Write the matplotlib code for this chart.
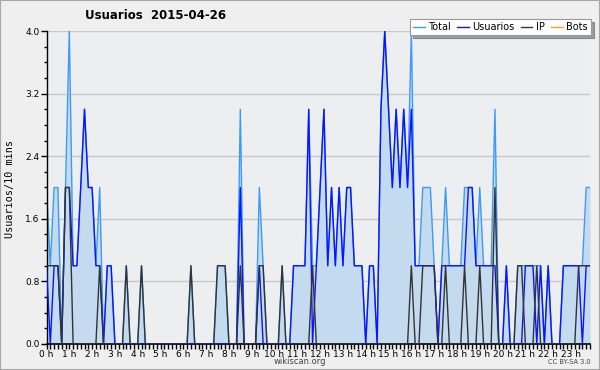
import matplotlib
matplotlib.use('Agg')
import matplotlib.pyplot as plt
from matplotlib.patches import Rectangle
from matplotlib.ticker import MultipleLocator
import numpy as np

# Colors
LIGHTBLUE = '#3d9bf5'
BLUE = '#0a14ff'
DARK = '#333333'
ORANGE = '#ffa31a'
FILL = '#c4dbef'

# values per 10 minutes, 144 slots
total = [2, 1, 2, 2, 0, 2, 4, 1, 1, 2, 3, 2, 2, 1, 2, 0, 1, 1, 0, 0, 0, 1, 0, 0,
         0, 1, 0, 0, 0, 0, 0, 0, 0, 0, 0, 0, 0, 0, 1, 0, 0, 0, 0, 0, 0, 1, 1, 1,
         0, 0, 0, 3, 0, 0, 0, 0, 2, 1, 0, 0, 0, 0, 1, 0, 0, 1, 1, 1, 1, 3, 1, 1,
         2, 3, 1, 2, 1, 2, 1, 2, 2, 1, 1, 1, 0, 1, 1, 0, 3, 4, 3, 2, 3, 2, 3, 2,
         4, 1, 1, 2, 2, 2, 1, 0, 1, 2, 1, 1, 1, 1, 2, 2, 2, 1, 2, 1, 1, 1, 3, 0,
         0, 1, 0, 0, 1, 1, 1, 1, 1, 1, 1, 0, 1, 0, 0, 0, 1, 1, 1, 1, 1, 1, 2, 2]
usuarios = [1, 0, 1, 1, 0, 2, 2, 1, 1, 2, 3, 2, 2, 1, 1, 0, 1, 1, 0, 0, 0, 0, 0, 0,
            0, 0, 0, 0, 0, 0, 0, 0, 0, 0, 0, 0, 0, 0, 0, 0, 0, 0, 0, 0, 0, 0, 0, 0,
            0, 0, 0, 2, 0, 0, 0, 0, 1, 0, 0, 0, 0, 0, 0, 0, 0, 1, 1, 1, 1, 3, 0, 1,
            2, 3, 1, 2, 1, 2, 1, 2, 2, 1, 1, 1, 0, 1, 1, 0, 3, 4, 3, 2, 3, 2, 3, 2,
            3, 1, 1, 1, 1, 1, 1, 0, 1, 1, 1, 1, 1, 1, 1, 2, 2, 1, 1, 1, 1, 1, 1, 0,
            0, 1, 0, 0, 0, 0, 1, 1, 1, 0, 1, 0, 1, 0, 0, 0, 1, 1, 1, 1, 1, 0, 1, 1]
ip = [1, 1, 1, 1, 0, 2, 2, 0, 0, 0, 0, 0, 0, 0, 1, 0, 0, 0, 0, 0, 0, 1, 0, 0,
      0, 1, 0, 0, 0, 0, 0, 0, 0, 0, 0, 0, 0, 0, 1, 0, 0, 0, 0, 0, 0, 1, 1, 1,
      0, 0, 0, 1, 0, 0, 0, 0, 1, 1, 0, 0, 0, 0, 1, 0, 0, 0, 0, 0, 0, 0, 1, 0,
      0, 0, 0, 0, 0, 0, 0, 0, 0, 0, 0, 0, 0, 0, 0, 0, 0, 0, 0, 0, 0, 0, 0, 0,
      1, 0, 0, 1, 1, 1, 1, 0, 0, 1, 0, 0, 0, 0, 1, 0, 0, 0, 1, 0, 0, 0, 2, 0,
      0, 0, 0, 0, 1, 1, 0, 0, 0, 1, 0, 0, 0, 0, 0, 0, 0, 0, 0, 0, 1, 1, 1, 1]
bots = [0] * 144

hours = [f'{h} h' for h in range(24)]
yticks = [0.0, 0.8, 1.6, 2.4, 3.2, 4.0]

x = np.arange(len(total)) / 6.0

fig = plt.figure(figsize=(6, 3.7), dpi=100, facecolor='#efefef')
fig.patches.append(Rectangle((0, 0), 1, 1, transform=fig.transFigure,
                             fill=False, edgecolor='#a8a8a8', lw=1.5))
ax = fig.add_axes([0.0775, 0.0703, 0.9058, 0.8459])
ax.set_facecolor('#eceef0')

ax.fill_between(x, total, 0, color=FILL, lw=0, zorder=1)
ax.plot(x, total, color=LIGHTBLUE, lw=1.0, label='Total', zorder=2)
ax.plot(x, usuarios, color=BLUE, lw=1.0, label='Usuarios', zorder=3)
ax.plot(x, ip, color=DARK, lw=1.0, label='IP', zorder=4)
ax.plot(x, bots, color=ORANGE, lw=1.0, label='Bots', zorder=1.5)

ax.set_xlim(0, 143 / 6.0)
ax.set_ylim(0, 4.0)
ax.set_yticks(yticks)
ax.set_yticklabels([f'{v:.1f}' for v in yticks], fontsize=6.5)
ax.yaxis.set_minor_locator(MultipleLocator(0.2))
ax.set_xticks(range(24))
ax.set_xticklabels(hours, fontsize=6.5)
ax.xaxis.set_minor_locator(MultipleLocator(1 / 6.0))
ax.tick_params(axis='both', which='both', direction='out', color='black', width=1)
ax.tick_params(axis='y', which='major', length=4, pad=1)
ax.tick_params(axis='y', which='minor', length=2)
ax.tick_params(axis='x', which='both', length=3.5, pad=0.5)
ax.grid(True, axis='y', color='#c8c8c8', lw=1)
ax.set_axisbelow(True)
for s in ['top', 'right']:
    ax.spines[s].set_visible(False)
ax.spines['left'].set_linewidth(1)
ax.spines['bottom'].set_linewidth(1.2)

fig.text(0.142, 0.957, 'Usuarios  2015-04-26', fontsize=8.5, fontweight='bold', va='center')
fig.text(0.017, 0.49, 'Usuarios/10 mins', family='DejaVu Sans Mono', fontsize=7.3,
         rotation=90, va='center', ha='center')
fig.text(0.5, 0.022, 'wikiscan.org', fontsize=6, color='#444444', ha='center', va='center')
fig.text(0.985, 0.022, 'CC BY-SA 3.0', fontsize=4.8, color='#444444', ha='right', va='center')

leg = ax.legend(loc='upper right', bbox_to_anchor=(591 / 600, 1 - 19 / 370),
                bbox_transform=fig.transFigure, ncol=4, fontsize=7, frameon=True,
                fancybox=False, shadow=True, handlelength=1.2, handletextpad=0.4,
                columnspacing=0.6, borderpad=0.3, borderaxespad=0)
leg.get_frame().set_edgecolor('#999999')
leg.get_frame().set_linewidth(0.8)

fig.savefig('out.png', dpi=100, facecolor=fig.get_facecolor())
